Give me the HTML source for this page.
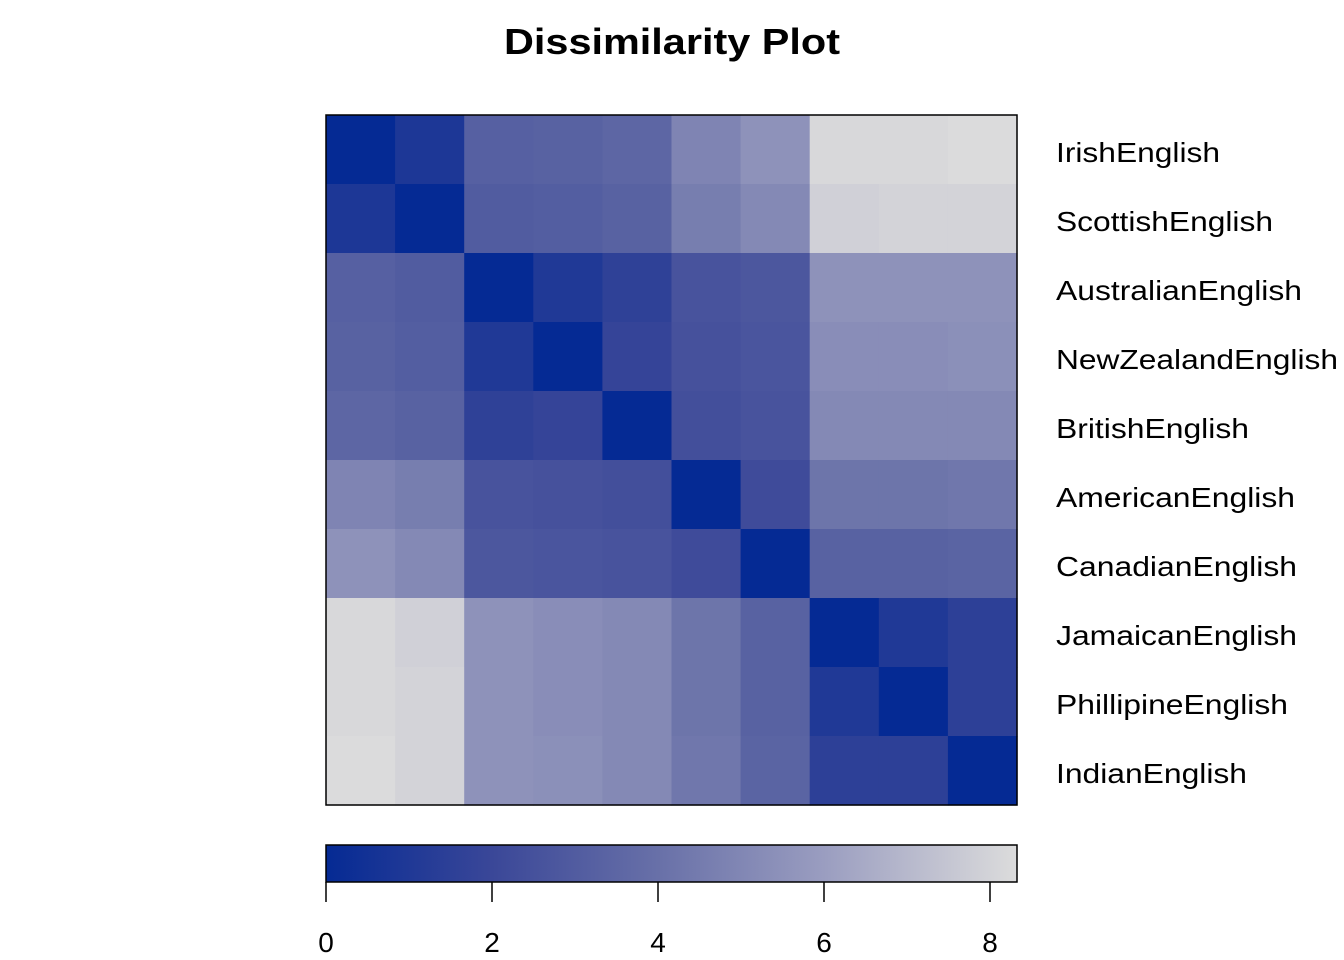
<!DOCTYPE html><html><head><style>body{margin:0;background:#fff}svg{display:block}text{font-family:"Liberation Sans",Arial,sans-serif}</style></head><body>
<svg id="s" width="1344" height="960" xmlns="http://www.w3.org/2000/svg">
<defs><linearGradient id="g" x1="0" x2="1"><stop offset="0" stop-color="#052a94"/><stop offset="0.24" stop-color="#3a4798"/><stop offset="0.48" stop-color="#6870a8"/><stop offset="0.72" stop-color="#9a9dc0"/><stop offset="1" stop-color="#dcdcdc"/></linearGradient></defs>
<text x="504" y="54" font-size="36" font-weight="bold" textLength="336" lengthAdjust="spacingAndGlyphs">Dissimilarity Plot</text>
<g id="cells"></g>
<rect x="326" y="115" width="691" height="690" fill="none" stroke="#000" stroke-width="1.5"/>
<g font-size="28">
<text x="1056" y="162" textLength="164" lengthAdjust="spacingAndGlyphs">IrishEnglish</text><text x="1056" y="231" textLength="217" lengthAdjust="spacingAndGlyphs">ScottishEnglish</text><text x="1056" y="300" textLength="246" lengthAdjust="spacingAndGlyphs">AustralianEnglish</text><text x="1056" y="369" textLength="282" lengthAdjust="spacingAndGlyphs">NewZealandEnglish</text><text x="1056" y="438" textLength="193" lengthAdjust="spacingAndGlyphs">BritishEnglish</text><text x="1056" y="507" textLength="239" lengthAdjust="spacingAndGlyphs">AmericanEnglish</text><text x="1056" y="576" textLength="241" lengthAdjust="spacingAndGlyphs">CanadianEnglish</text><text x="1056" y="645" textLength="241" lengthAdjust="spacingAndGlyphs">JamaicanEnglish</text><text x="1056" y="714" textLength="232" lengthAdjust="spacingAndGlyphs">PhillipineEnglish</text><text x="1056" y="783" textLength="191" lengthAdjust="spacingAndGlyphs">IndianEnglish</text>
</g>
<rect x="326" y="845" width="691" height="37" fill="url(#g)" stroke="#000" stroke-width="1.5"/>
<g stroke="#000" stroke-width="1.5"><line x1="326" y1="882" x2="326" y2="902"/><line x1="492" y1="882" x2="492" y2="902"/><line x1="658" y1="882" x2="658" y2="902"/><line x1="824" y1="882" x2="824" y2="902"/><line x1="990" y1="882" x2="990" y2="902"/></g>
<g font-size="28" text-anchor="middle"><text x="326" y="952">0</text><text x="492" y="952">2</text><text x="658" y="952">4</text><text x="824" y="952">6</text><text x="990" y="952">8</text></g>
</svg>
<script>
var U=[[0.9,3.2,3.3,3.5,4.9,5.5,8.2,8.2,8.3],[3.0,3.1,3.3,4.6,5.1,7.9,8.0,8.0],[1.0,1.6,2.6,2.8,5.5,5.5,5.5],[1.8,2.5,2.7,5.3,5.3,5.4],[2.4,2.6,5.1,5.1,5.1],[2.2,4.2,4.2,4.3],[3.3,3.3,3.4],[1.0,1.5],[1.5]];
var M=[];for(var i=0;i<10;i++){M.push([]);for(var j=0;j<10;j++)M[i].push(0);}
for(var i=0;i<9;i++)for(var k=0;k<U[i].length;k++){var j=i+1+k;M[i][j]=M[j][i]=U[i][k];}
var st=[[0,[5,42,148]],[2,[58,71,152]],[4,[104,112,168]],[6,[154,157,192]],[8.33,[220,220,220]]];
function col(v){for(var k=0;k<st.length-1;k++){if(v<=st[k+1][0]){var t=(v-st[k][0])/(st[k+1][0]-st[k][0]);var c=st[k][1].map(function(a,n){return Math.round(a+(st[k+1][1][n]-a)*t)});return 'rgb('+c.join(',')+')';}}return 'rgb(220,220,220)';}
var g=document.getElementById('cells'),h='';var w=691/10,hh=690/10;
for(var i=0;i<10;i++)for(var j=0;j<10;j++)h+='<rect x="'+(326+j*w)+'" y="'+(115+i*hh)+'" width="'+(w+0.6)+'" height="'+(hh+0.6)+'" fill="'+col(M[i][j])+'"/>';
g.innerHTML=h;
</script>
</body></html>
